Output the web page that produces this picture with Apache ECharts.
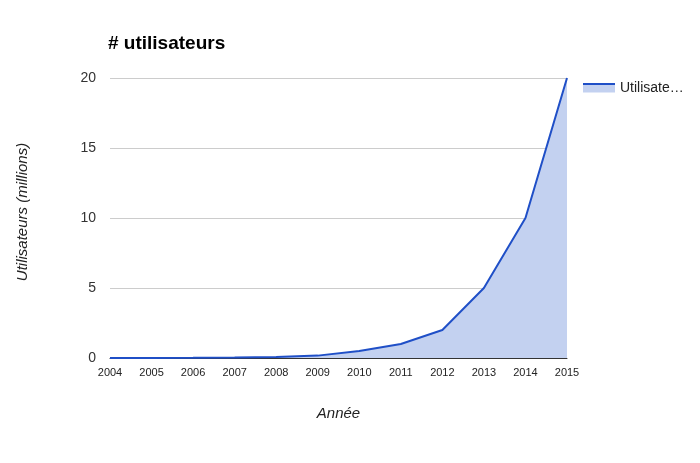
<!DOCTYPE html>
<html><head><meta charset="utf-8">
<script src="https://cdn.jsdelivr.net/npm/echarts@6/dist/echarts.min.js"></script>
<style>html,body{margin:0;padding:0;background:#fff}#c{width:700px;height:463px}</style>
</head><body><div id="c"></div>
<script>
const years = ['2004','2005','2006','2007','2008','2009','2010','2011','2012','2013','2014','2015'];
const users = [0, 0, 0.01, 0.03, 0.08, 0.17, 0.5, 1, 2, 5, 10, 20];
const seriesName = 'Utilisateurs';
const yTicks = [0, 5, 10, 15, 20];

const chart = echarts.init(document.getElementById('c'));
const F = 'Liberation Sans, Arial, sans-serif';
chart.setOption({
  animation: false,
  textStyle: { fontFamily: F },
  title: { text: '# utilisateurs', left: 103, top: 29,
    textStyle: { fontFamily: F, fontSize: 19, fontWeight: 'bold', color: '#000' } },
  legend: { left: 578, top: 76, orient: 'vertical', itemWidth: 32, itemHeight: 9,
    icon: 'rect', itemGap: 6,
    formatter: n => 'Utilisate…',
    textStyle: { fontFamily: F, fontSize: 14, color: '#222' },
    data: [{ name: seriesName, itemStyle: { color: '#c3d1f0' } }] },
  graphic: [{ type: 'rect', left: 583, top: 83, shape: { width: 32, height: 2 },
    style: { fill: '#1f4fc7' }, z: 200 }],
  grid: { left: 110, right: 133, top: 78, bottom: 105 },
  xAxis: { type: 'category', data: years, boundaryGap: false,
    name: 'Année', nameLocation: 'middle', nameGap: 48,
    nameTextStyle: { fontFamily: F, fontSize: 15, fontStyle: 'italic', color: '#222' },
    axisLine: { lineStyle: { color: '#333', width: 1 } },
    axisTick: { show: false },
    axisLabel: { fontFamily: F, fontSize: 11, color: '#222', margin: 9 },
    splitLine: { show: false } },
  yAxis: { type: 'value', min: 0, max: 20, interval: 5,
    name: 'Utilisateurs (millions)', nameLocation: 'middle', nameGap: 80,
    nameTextStyle: { fontFamily: F, fontSize: 15, fontStyle: 'italic', color: '#222',
      padding: [0, 0, 0, 12] },
    axisLine: { show: false }, axisTick: { show: false },
    axisLabel: { fontFamily: F, fontSize: 14, color: '#333', margin: 14,
      formatter: v => yTicks.includes(v) ? String(v) : '' },
    splitLine: { lineStyle: { color: '#cccccc', width: 1 } } },
  series: [{ name: seriesName, type: 'line', data: users, symbol: 'none',
    lineStyle: { color: '#1f4fc7', width: 2 },
    itemStyle: { color: '#1f4fc7' },
    areaStyle: { color: '#c3d1f0', opacity: 1 } }]
});
</script></body></html>
